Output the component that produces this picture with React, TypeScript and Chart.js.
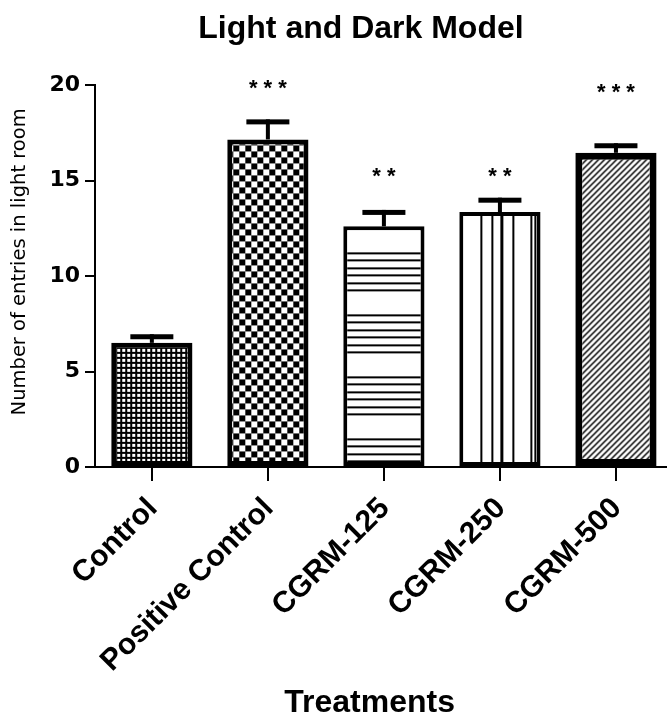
import { useEffect, useRef } from 'react';
import { Chart, registerables } from 'chart.js';

Chart.register(...registerables);

const TITLE = 'Light and Dark Model';
const X_TITLE = 'Treatments';
const Y_TITLE = 'Number of entries in light room';
const categories = ['Control', 'Positive Control', 'CGRM-125', 'CGRM-250', 'CGRM-500'];
const means = [6.5, 17.15, 12.6, 13.35, 16.45];
const sems = [0.45, 1.05, 0.86, 0.75, 0.5];
const significance = ['', '* * *', '* *', '* *', '* * *'];
const significanceLevel = [0, 19.8, 15.2, 15.2, 19.6];
const yTicks = [0, 5, 10, 15, 20];

const BORDER_WIDTHS = [5, 5, 4, 4, 7];
const PATTERN_SHIFT_Y = [0, 0, 26, 0, 0];

function tile(w: number, h: number, draw: (g: CanvasRenderingContext2D) => void) {
  const c = document.createElement('canvas');
  c.width = w;
  c.height = h;
  const g = c.getContext('2d')!;
  draw(g);
  return c;
}

function makePatterns(ctx: CanvasRenderingContext2D): CanvasPattern[] {
  const grid = tile(5, 5, (g) => {
    g.fillStyle = '#000';
    g.fillRect(0, 0, 5, 5);
    g.fillStyle = '#fff';
    g.fillRect(1, 1, 3, 3);
  });
  const checker = tile(12, 12, (g) => {
    g.fillStyle = '#fff';
    g.fillRect(0, 0, 12, 12);
    g.fillStyle = '#000';
    g.fillRect(0, 0, 6, 6);
    g.fillRect(6, 6, 6, 6);
  });
  const hlines = tile(4, 62, (g) => {
    g.fillStyle = '#fff';
    g.fillRect(0, 0, 4, 62);
    g.fillStyle = '#000';
    [0, 7, 15, 22, 30, 37].forEach((y) => g.fillRect(0, y, 4, 2));
  });
  const vlines = tile(81, 4, (g) => {
    g.fillStyle = '#fff';
    g.fillRect(0, 0, 81, 4);
    g.fillStyle = '#000';
    [21, 32, 53, 71, 75].forEach((x) => g.fillRect(x, 0, 2, 4));
    g.fillRect(41, 0, 3, 4);
  });
  const diag = tile(6, 6, (g) => {
    g.fillStyle = '#fff';
    g.fillRect(0, 0, 6, 6);
    g.strokeStyle = '#000';
    g.lineWidth = 1.5;
    g.beginPath();
    g.moveTo(-1, 7);
    g.lineTo(7, -1);
    g.moveTo(-1, 1);
    g.lineTo(1, -1);
    g.moveTo(5, 7);
    g.lineTo(7, 5);
    g.stroke();
  });
  return [grid, checker, hlines, vlines, diag].map((c) => ctx.createPattern(c, 'repeat')!);
}

export default function App() {
  const ref = useRef<HTMLCanvasElement | null>(null);

  useEffect(() => {
    const canvas = ref.current!;
    const ctx = canvas.getContext('2d')!;
    const patterns = makePatterns(ctx);

    const alignPatterns = {
      id: 'alignPatterns',
      beforeDatasetsDraw(chart: any) {
        const meta = chart.getDatasetMeta(0);
        meta.data.forEach((bar: any, i: number) => {
          const { x, y, width } = bar.getProps(['x', 'y', 'width'], true);
          patterns[i].setTransform(new DOMMatrix().translate(x - width / 2, y + PATTERN_SHIFT_Y[i]));
        });
      },
    };

    const errorBars = {
      id: 'errorBars',
      afterDatasetsDraw(chart: any) {
        const c = chart.ctx;
        const yScale = chart.scales.y;
        const meta = chart.getDatasetMeta(0);
        c.save();
        c.fillStyle = '#000';
        meta.data.forEach((bar: any, i: number) => {
          const { x, y } = bar.getProps(['x', 'y'], true);
          const top = yScale.getPixelForValue(means[i] + sems[i]);
          c.fillRect(x - 2, top, 4, y - top);
          c.fillRect(x - 21.5, top, 43, 5);
          if (significance[i]) {
            c.font = 'bold 22px "Liberation Sans", Arial, sans-serif';
            c.textAlign = 'center';
            c.textBaseline = 'middle';
            c.fillText(significance[i], x, yScale.getPixelForValue(significanceLevel[i]));
          }
        });
        c.restore();
      },
    };

    const titles = {
      id: 'titles',
      afterDraw(chart: any) {
        const c = chart.ctx;
        const { left, right, top, bottom } = chart.chartArea;
        const w = right - left;
        c.save();
        c.fillStyle = '#000';
        c.textAlign = 'center';
        c.textBaseline = 'alphabetic';
        c.font = 'bold 32px "Liberation Sans", Arial, sans-serif';
        c.fillText(TITLE, left + 0.465 * w, 38);
        c.fillText(X_TITLE, left + 0.48 * w, 712);
        c.translate(20, top + (bottom - top) * 0.463);
        c.rotate(-Math.PI / 2);
        c.textBaseline = 'middle';
        c.font = '19.5px "DejaVu Sans", sans-serif';
        c.fillText(Y_TITLE, 0, 0);
        c.restore();
      },
    };

    const chart = new Chart(ctx, {
      type: 'bar',
      data: {
        datasets: [
          {
            data: means.map((v, i) => ({ x: i, y: v })),
            backgroundColor: patterns as any,
            borderColor: '#000',
            borderWidth: BORDER_WIDTHS,
            borderSkipped: false,
            barPercentage: 0.7,
            categoryPercentage: 1,
          },
        ],
      },
      options: {
        responsive: false,
        animation: false,
        events: [],
        layout: { padding: { top: 85, right: 0, left: 0, bottom: 0 } },
        plugins: {
          legend: { display: false },
          tooltip: { enabled: false },
          title: { display: false },
        },
        scales: {
          x: {
            type: 'linear',
            min: -0.49,
            max: 4.44,
            offset: false,
            afterBuildTicks: (s: any) => {
              s.ticks = categories.map((_, i) => ({ value: i }));
            },
            afterFit: (s: any) => {
              s.height = 248;
            },
            ticks: {
              autoSkip: false,
              minRotation: 45,
              maxRotation: 45,
              padding: 10,
              labelOffset: 1,
              color: '#000',
              font: { family: '"Liberation Sans", Arial, sans-serif', size: 30, weight: 'bold' },
              callback: (_v: any, i: number) => categories[i] ?? '',
            },
            grid: {
              display: true,
              offset: false,
              drawOnChartArea: false,
              drawTicks: true,
              tickLength: 14,
              tickWidth: 2,
              color: '#000',
              lineWidth: 2,
            },
            border: { display: true, color: '#000', width: 2 },
          },
          y: {
            min: 0,
            max: 20,
            afterBuildTicks: (s: any) => {
              s.ticks = yTicks.map((v) => ({ value: v }));
            },
            afterFit: (s: any) => {
              s.width = 95;
            },
            ticks: {
              padding: 5,
              color: '#000',
              font: { family: '"DejaVu Sans", sans-serif', size: 22, weight: 'bold' },
            },
            grid: {
              drawOnChartArea: false,
              tickLength: 10,
              tickWidth: 2,
              color: '#000',
              lineWidth: 2,
            },
            border: { display: true, color: '#000', width: 2 },
            title: { display: false },
          },
        },
      } as any,
      plugins: [alignPatterns, errorBars, titles],
    });

    return () => chart.destroy();
  }, []);

  return (
    <div style={{ position: 'absolute', left: 0, top: 0, width: 667, height: 715 }}>
      <canvas ref={ref} width={667} height={715} style={{ display: 'block', width: 667, height: 715 }} />
    </div>
  );
}
